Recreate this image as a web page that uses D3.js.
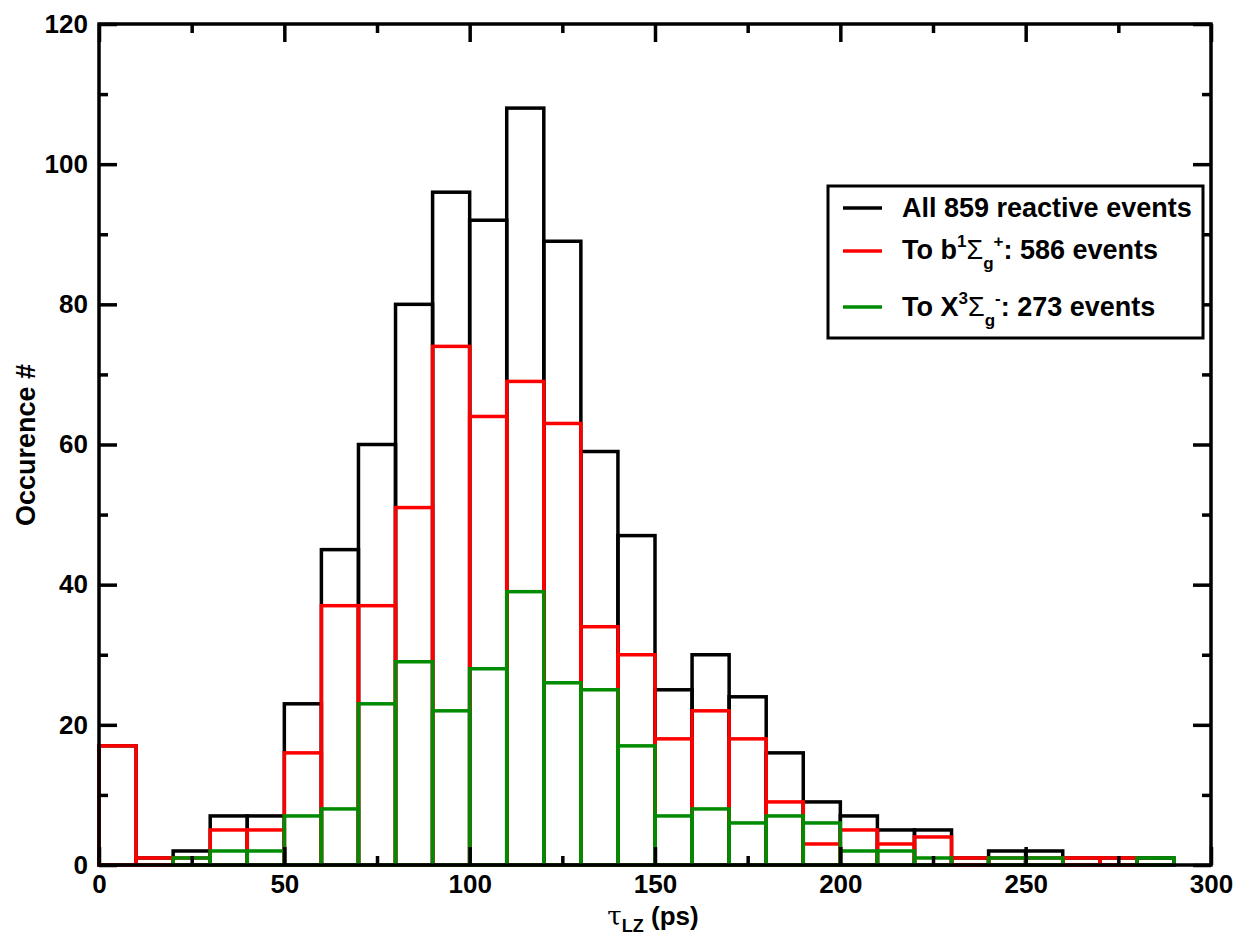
<!DOCTYPE html>
<html>
<head>
<meta charset="utf-8">
<script src="https://cdn.jsdelivr.net/npm/d3@7/dist/d3.min.js"></script>
<style>
  body { margin: 0; background: #fff; }
  text { font-family: "Liberation Sans", Arial, sans-serif; font-weight: bold; fill: #000; }
</style>
</head>
<body>
<div id="chart"></div>
<script>
// histogram bins, 10 ps wide (left edges)
const binStarts = [0, 10, 20, 30, 40, 50, 60, 70, 80, 90, 100, 110, 120, 130, 140,
                   150, 160, 170, 180, 190, 200, 210, 220, 230, 240, 250, 260, 270, 280]
const allEvents = [17, 1, 2, 7, 7, 23, 45, 60, 80, 96, 92, 108, 89, 59, 47,
                   25, 30, 24, 16, 9, 7, 5, 5, 1, 2, 2, 1, 1, 1]
const toB       = [17, 1, 1, 5, 5, 16, 37, 37, 51, 74, 64, 69, 63, 34, 30,
                   18, 22, 18, 9, 3, 5, 3, 4, 1, 1, 1, 1, 1, 0]
const toX       = [0, 0, 1, 2, 2, 7, 8, 23, 29, 22, 28, 39, 26, 25, 17,
                   7, 8, 6, 7, 6, 2, 2, 1, 0, 1, 1, 0, 0, 1]
const binWidth = 10

const xMajor = [0, 50, 100, 150, 200, 250, 300]
const xMinor = [25, 75, 125, 175, 225, 275]
const yMajor = [0, 20, 40, 60, 80, 100, 120]
const yMinor = [10, 30, 50, 70, 90, 110]

const width = 1238,
      height = 937
const plotL = 99, plotR = 1211, plotT = 24, plotB = 865
const lw = 3.5

const svg = d3.select('#chart')
  .append('svg')
  .attr('width', width)
  .attr('height', height)

const x = d3.scaleLinear().domain([0, 300]).range([plotL, plotR])
const y = d3.scaleLinear().domain([0, 120]).range([plotB, plotT])

// bars, outlines only: black first, red over it, green on top
const series = [
  { values: allEvents, color: '#000000' },
  { values: toB, color: '#ff0000' },
  { values: toX, color: '#008b00' }
]

series.forEach(function(s) {
  const bins = binStarts.map(function(b, i) { return { x0: b, v: s.values[i] } })
    .filter(function(d) { return d.v > 0 })
  svg.append('g').selectAll('rect')
    .data(bins)
    .enter().append('rect')
    .attr('x', function(d) { return x(d.x0) })
    .attr('y', function(d) { return y(d.v) })
    .attr('width', function(d) { return x(d.x0 + binWidth) - x(d.x0) })
    .attr('height', function(d) { return y(0) - y(d.v) })
    .attr('fill', 'none')
    .attr('stroke', s.color)
    .attr('stroke-width', lw)
})

// axes: ticks point inward on all four sides
function styleAxis(g) {
  g.select('.domain').remove()
  g.selectAll('.tick line').attr('stroke', '#000').attr('stroke-width', lw)
  g.selectAll('.tick text')
    .style('font-size', '26px')
    .style('font-family', '"Liberation Sans", Arial, sans-serif')
    .style('font-weight', 'bold')
}

svg.append('g').attr('transform', 'translate(0,' + plotB + ')')
  .call(d3.axisBottom(x).tickValues(xMajor).tickSize(-18).tickPadding(10))
  .call(styleAxis)
svg.append('g').attr('transform', 'translate(0,' + plotB + ')')
  .call(d3.axisBottom(x).tickValues(xMinor).tickSize(-9).tickFormat(''))
  .call(styleAxis)
svg.append('g').attr('transform', 'translate(0,' + plotT + ')')
  .call(d3.axisTop(x).tickValues(xMajor).tickSize(-18).tickFormat(''))
  .call(styleAxis)
svg.append('g').attr('transform', 'translate(0,' + plotT + ')')
  .call(d3.axisTop(x).tickValues(xMinor).tickSize(-9).tickFormat(''))
  .call(styleAxis)

svg.append('g').attr('transform', 'translate(' + plotL + ',0)')
  .call(d3.axisLeft(y).tickValues(yMajor).tickSize(-18).tickPadding(11))
  .call(styleAxis)
svg.append('g').attr('transform', 'translate(' + plotL + ',0)')
  .call(d3.axisLeft(y).tickValues(yMinor).tickSize(-9).tickFormat(''))
  .call(styleAxis)
svg.append('g').attr('transform', 'translate(' + plotR + ',0)')
  .call(d3.axisRight(y).tickValues(yMajor).tickSize(-18).tickFormat(''))
  .call(styleAxis)
svg.append('g').attr('transform', 'translate(' + plotR + ',0)')
  .call(d3.axisRight(y).tickValues(yMinor).tickSize(-9).tickFormat(''))
  .call(styleAxis)

// frame
svg.append('rect')
  .attr('x', plotL).attr('y', plotT)
  .attr('width', plotR - plotL).attr('height', plotB - plotT)
  .attr('fill', 'none').attr('stroke', '#000').attr('stroke-width', lw)

// axis titles
svg.append('text')
  .attr('transform', 'translate(35,445) rotate(-90)')
  .attr('text-anchor', 'middle')
  .style('font-size', '27px')
  .text('Occurence #')

const xt = svg.append('text')
  .attr('x', 653).attr('y', 925)
  .attr('text-anchor', 'middle')
  .style('font-size', '26px')
xt.append('tspan').style('font-weight', 'normal').style('font-family', '"DejaVu Serif", serif').text('τ')
xt.append('tspan').attr('dy', 7).style('font-size', '18px').text('LZ')
xt.append('tspan').attr('dy', -7).text(' (ps)')

// legend
const legend = svg.append('g')
legend.append('rect')
  .attr('x', 828).attr('y', 186)
  .attr('width', 375).attr('height', 152)
  .attr('fill', '#fff').attr('stroke', '#000').attr('stroke-width', 3)

const rows = [
  { color: '#000000', y: 208 },
  { color: '#ff0000', y: 251 },
  { color: '#008b00', y: 307 }
]
legend.selectAll('line.key')
  .data(rows)
  .enter().append('line')
  .attr('class', 'key')
  .attr('x1', 843).attr('x2', 882)
  .attr('y1', function(d) { return d.y }).attr('y2', function(d) { return d.y })
  .attr('stroke', function(d) { return d.color })
  .attr('stroke-width', lw)

const t1 = legend.append('text').attr('x', 902).attr('y', 217).style('font-size', '27px')
t1.text('All 859 reactive events')

function stateLabel(yPos, letter, mult, sign, count) {
  const t = legend.append('text').attr('x', 902).attr('y', yPos).style('font-size', '27px')
  t.append('tspan').text('To ' + letter)
  t.append('tspan').attr('dy', -12).style('font-size', '17px').text(mult)
  t.append('tspan').attr('dy', 12).style('font-weight', 'normal').text('Σ')
  t.append('tspan').attr('dy', 10).style('font-size', '17px').text('g')
  t.append('tspan').attr('dy', -22).style('font-size', '17px').text(sign)
  t.append('tspan').attr('dy', 12).text(': ' + count + ' events')
}
stateLabel(259, 'b', '1', '+', 586)
stateLabel(316, 'X', '3', '-', 273)
</script>
</body>
</html>
